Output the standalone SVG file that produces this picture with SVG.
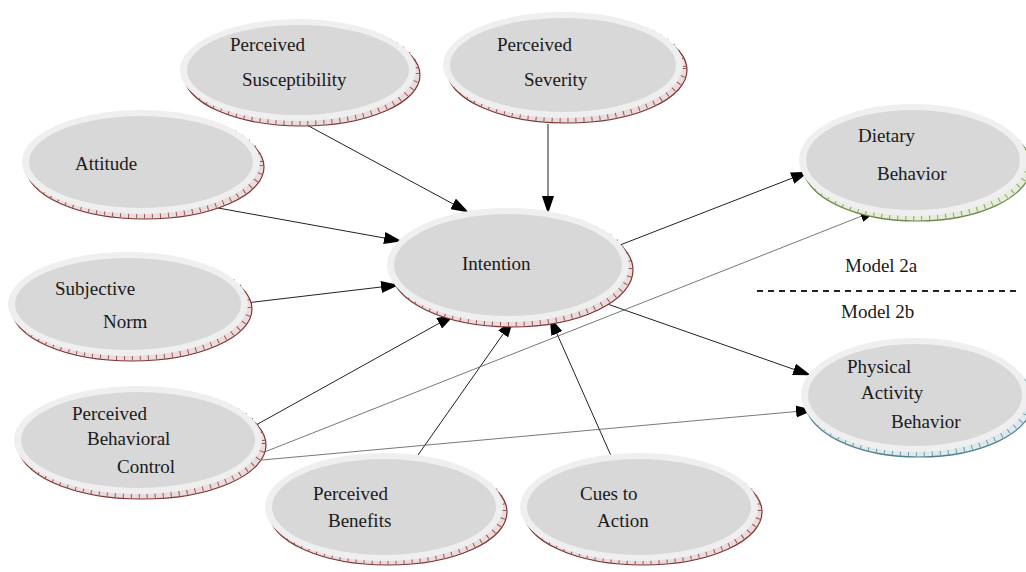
<svg xmlns="http://www.w3.org/2000/svg" width="1026" height="572" viewBox="0 0 1026 572">
  <style>
    .lbl { font-family: "Liberation Serif", "Times New Roman", serif; font-size: 19px; fill: #1a1a1a; }
    .rim { fill: #efefef; }
    .core { fill: #d8d8d8; }
    .sh-red { fill: #eadcdc; stroke: #7d3535; stroke-width: 1.2; }
    .tick-red { fill: none; stroke: #9a5555; stroke-width: 5; stroke-dasharray: 1 7; }
    .sh-green { fill: #e6eddc; stroke: #6f8a4a; stroke-width: 1.2; }
    .tick-green { fill: none; stroke: #8aa364; stroke-width: 5; stroke-dasharray: 1 7; }
    .sh-blue { fill: #dde9ec; stroke: #4f7f8c; stroke-width: 1.2; }
    .tick-blue { fill: none; stroke: #6d9aa6; stroke-width: 5; stroke-dasharray: 1 7; }
    .edge { stroke: #222; stroke-width: 1; fill: none; }
    .thin { stroke: #555; stroke-width: 0.8; fill: none; }
  </style>
  <defs>
    <marker id="arrow" markerUnits="userSpaceOnUse" markerWidth="18" markerHeight="12" refX="17" refY="6" orient="auto">
      <path d="M0,0 L18,6 L0,12 Z" fill="#000"/>
    </marker>
  </defs>
  <rect width="1026" height="572" fill="#fff"/>

  <!-- connectors -->
  <g id="connectors">
    <line class="edge" x1="305" y1="124" x2="468" y2="212" marker-end="url(#arrow)"/>
    <line class="edge" x1="548" y1="124" x2="548" y2="213" marker-end="url(#arrow)"/>
    <line class="edge" x1="218" y1="208" x2="401" y2="241" marker-end="url(#arrow)"/>
    <line class="edge" x1="246" y1="303" x2="398" y2="285" marker-end="url(#arrow)"/>
    <line class="edge" x1="256" y1="425" x2="454" y2="315" marker-end="url(#arrow)"/>
    <line class="edge" x1="418" y1="455" x2="513" y2="320" marker-end="url(#arrow)"/>
    <line class="edge" x1="612" y1="458" x2="550" y2="318" marker-end="url(#arrow)"/>
    <line class="edge" x1="620" y1="245" x2="808" y2="172" marker-end="url(#arrow)"/>
    <line class="edge" x1="596" y1="300" x2="810" y2="375" marker-end="url(#arrow)"/>
    <line class="thin" x1="262" y1="453" x2="877" y2="210" marker-end="url(#arrow)"/>
    <line class="thin" x1="262" y1="460" x2="813" y2="410" marker-end="url(#arrow)"/>
    <line x1="757" y1="291" x2="1018" y2="291" stroke="#222" stroke-width="2" stroke-dasharray="6 5"/>
  </g>

  <!-- nodes: drop band, light rim, grey face, label -->
  <g id="susceptibility">
    <ellipse class="sh-red" cx="302" cy="75" rx="118" ry="51"/>
    <ellipse class="tick-red" cx="301" cy="73" rx="116" ry="50"/>
    <ellipse class="rim" cx="298" cy="70" rx="118" ry="51"/>
    <ellipse class="core" cx="298" cy="70" rx="111" ry="45"/>
    <text class="lbl" x="230" y="51">Perceived</text>
    <text class="lbl" x="242" y="86">Susceptibility</text>
  </g>

  <g id="severity">
    <ellipse class="sh-red" cx="567" cy="70" rx="120" ry="53"/>
    <ellipse class="tick-red" cx="566" cy="68" rx="118" ry="52"/>
    <ellipse class="rim" cx="563" cy="65" rx="120" ry="53"/>
    <ellipse class="core" cx="563" cy="65" rx="113" ry="47"/>
    <text class="lbl" x="497" y="51">Perceived</text>
    <text class="lbl" x="524" y="86">Severity</text>
  </g>

  <g id="attitude">
    <ellipse class="sh-red" cx="145" cy="167" rx="119" ry="52"/>
    <ellipse class="tick-red" cx="144" cy="165" rx="117" ry="51"/>
    <ellipse class="rim" cx="141" cy="162" rx="119" ry="52"/>
    <ellipse class="core" cx="141" cy="162" rx="112" ry="46"/>
    <text class="lbl" x="75" y="170">Attitude</text>
  </g>

  <g id="subjective-norm">
    <ellipse class="sh-red" cx="132" cy="309" rx="120" ry="52"/>
    <ellipse class="tick-red" cx="131" cy="307" rx="118" ry="51"/>
    <ellipse class="rim" cx="128" cy="304" rx="120" ry="52"/>
    <ellipse class="core" cx="128" cy="304" rx="113" ry="46"/>
    <text class="lbl" x="55" y="295">Subjective</text>
    <text class="lbl" x="103" y="328">Norm</text>
  </g>

  <g id="pbc">
    <ellipse class="sh-red" cx="142" cy="445" rx="124" ry="54"/>
    <ellipse class="tick-red" cx="141" cy="443" rx="122" ry="53"/>
    <ellipse class="rim" cx="138" cy="440" rx="124" ry="54"/>
    <ellipse class="core" cx="138" cy="440" rx="117" ry="48"/>
    <text class="lbl" x="72" y="420">Perceived</text>
    <text class="lbl" x="87" y="445">Behavioral</text>
    <text class="lbl" x="117" y="473">Control</text>
  </g>

  <g id="intention">
    <ellipse class="sh-red" cx="512" cy="270" rx="121" ry="57"/>
    <ellipse class="tick-red" cx="511" cy="268" rx="119" ry="56"/>
    <ellipse class="rim" cx="508" cy="265" rx="121" ry="57"/>
    <ellipse class="core" cx="508" cy="265" rx="114" ry="51"/>
    <text class="lbl" x="462" y="270">Intention</text>
  </g>

  <g id="dietary">
    <ellipse class="sh-green" cx="917" cy="166" rx="114" ry="55"/>
    <ellipse class="tick-green" cx="916" cy="164" rx="112" ry="54"/>
    <ellipse class="rim" cx="913" cy="160" rx="114" ry="56"/>
    <ellipse class="core" cx="913" cy="160" rx="107" ry="50"/>
    <text class="lbl" x="858" y="142">Dietary</text>
    <text class="lbl" x="877" y="180">Behavior</text>
  </g>

  <g id="physical">
    <ellipse class="sh-blue" cx="919" cy="401" rx="114" ry="56"/>
    <ellipse class="tick-blue" cx="918" cy="399" rx="112" ry="55"/>
    <ellipse class="rim" cx="915" cy="395" rx="114" ry="57"/>
    <ellipse class="core" cx="915" cy="395" rx="107" ry="51"/>
    <text class="lbl" x="847" y="373">Physical</text>
    <text class="lbl" x="861" y="399">Activity</text>
    <text class="lbl" x="891" y="428">Behavior</text>
  </g>

  <g id="benefits">
    <ellipse class="sh-red" cx="388" cy="512" rx="119" ry="53"/>
    <ellipse class="tick-red" cx="387" cy="510" rx="117" ry="52"/>
    <ellipse class="rim" cx="384" cy="507" rx="119" ry="54"/>
    <ellipse class="core" cx="384" cy="507" rx="112" ry="48"/>
    <text class="lbl" x="313" y="500">Perceived</text>
    <text class="lbl" x="328" y="527">Benefits</text>
  </g>

  <g id="cues">
    <ellipse class="sh-red" cx="643" cy="512" rx="119" ry="53"/>
    <ellipse class="tick-red" cx="642" cy="510" rx="117" ry="52"/>
    <ellipse class="rim" cx="639" cy="507" rx="119" ry="54"/>
    <ellipse class="core" cx="639" cy="507" rx="112" ry="48"/>
    <text class="lbl" x="580" y="500">Cues to</text>
    <text class="lbl" x="597" y="527">Action</text>
  </g>

  <g id="model-labels">
    <text class="lbl" x="845" y="272">Model 2a</text>
    <text class="lbl" x="841" y="318">Model 2b</text>
  </g>
</svg>
